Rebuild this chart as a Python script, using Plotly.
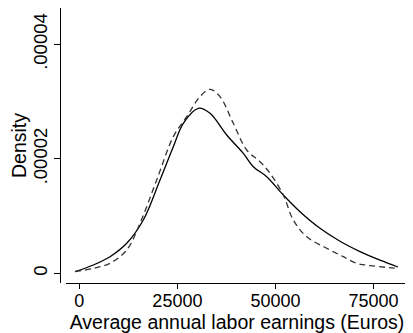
import plotly.graph_objects as go

# Kernel density estimates
solid_x = [-1100, 3568, 7824, 12080, 16310, 20565, 23955, 26503, 30326, 33307,
           37563, 41794, 44342, 47757, 51987, 56243, 61340, 66437, 71534, 76630, 81218]
solid_y = [2.8e-7, 1.45e-6, 2.9e-6, 5.24e-6, 9.31e-6, 1.63e-5, 2.211e-5, 2.62e-5, 2.882e-5, 2.795e-5,
           2.416e-5, 2.096e-5, 1.862e-5, 1.687e-5, 1.368e-5, 1.076e-5, 7.86e-6, 5.6e-6, 3.8e-6, 2.3e-6, 1.1e-6]

dash_x = [-1100, 3568, 7824, 12080, 15469, 19725, 23955, 27370, 30759, 33307, 35855,
          39245, 42659, 46050, 48598, 51987, 54536, 57951, 63048, 67278, 70693, 74000, 80400]
dash_y = [2.8e-7, 8.7e-7, 1.75e-6, 4.07e-6, 8.73e-6, 1.63e-5, 2.386e-5, 2.735e-5, 3.085e-5, 3.214e-5, 3.085e-5,
          2.62e-5, 2.154e-5, 1.949e-5, 1.747e-5, 1.368e-5, 9.31e-6, 6.39e-6, 4.37e-6, 2.9e-6, 1.75e-6, 1.36e-6, 9e-7]

x_ticks = [0, 25000, 50000, 75000]
x_ticktext = ["0", "25000", "50000", "75000"]
y_ticks = [0, 0.00002, 0.00004]
y_ticktext = ["0", ".00002", ".00004"]

FONT = "Liberation Sans, Arial, sans-serif"

fig = go.Figure()
fig.add_trace(go.Scatter(x=solid_x, y=solid_y, mode="lines",
                         line=dict(color="black", width=1.3, shape="spline", smoothing=1),
                         showlegend=False, hoverinfo="skip"))
fig.add_trace(go.Scatter(x=dash_x, y=dash_y, mode="lines",
                         line=dict(color="#333333", width=1.3, dash="6px,4px", shape="spline", smoothing=1),
                         showlegend=False, hoverinfo="skip"))

# page body adds an 8px offset; figure is sized to the remaining viewport
W, H = 405, 325
ML, MR, MT, MB = 52, 5, 0, 50
PW = W - ML - MR

fig.update_layout(
    width=W, height=H,
    margin=dict(l=ML, r=MR, t=MT, b=MB),
    paper_bgcolor="white", plot_bgcolor="white",
    font=dict(family=FONT, color="black", size=19),
    xaxis=dict(
        domain=[6 / PW, 1],
        range=[-3389, 83766],
        tickvals=x_ticks, ticktext=x_ticktext,
        ticks="outside", ticklen=5, tickwidth=1, tickcolor="black",
        showline=True, linecolor="black", linewidth=1,
        showgrid=False, zeroline=False,
        anchor="y",
        tickfont=dict(size=18),
        ticklabelstandoff=-4,
        title=dict(text="Average annual labor earnings (Euros)", font=dict(size=19.5), standoff=2),
        automargin=False,
    ),
    yaxis=dict(
        domain=[0, 1],
        range=[-1.694e-6, 4.634e-5],
        tickvals=y_ticks, ticktext=y_ticktext,
        tickangle=-90,
        ticks="outside", ticklen=6, tickwidth=1, tickcolor="black",
        showline=True, linecolor="black", linewidth=1,
        showgrid=False, zeroline=False,
        anchor="free", position=0,
        tickfont=dict(size=18.5),
        title=dict(text="Density", font=dict(size=19.5), standoff=2),
        automargin=False,
    ),
)

fig.write_html("out.html")
